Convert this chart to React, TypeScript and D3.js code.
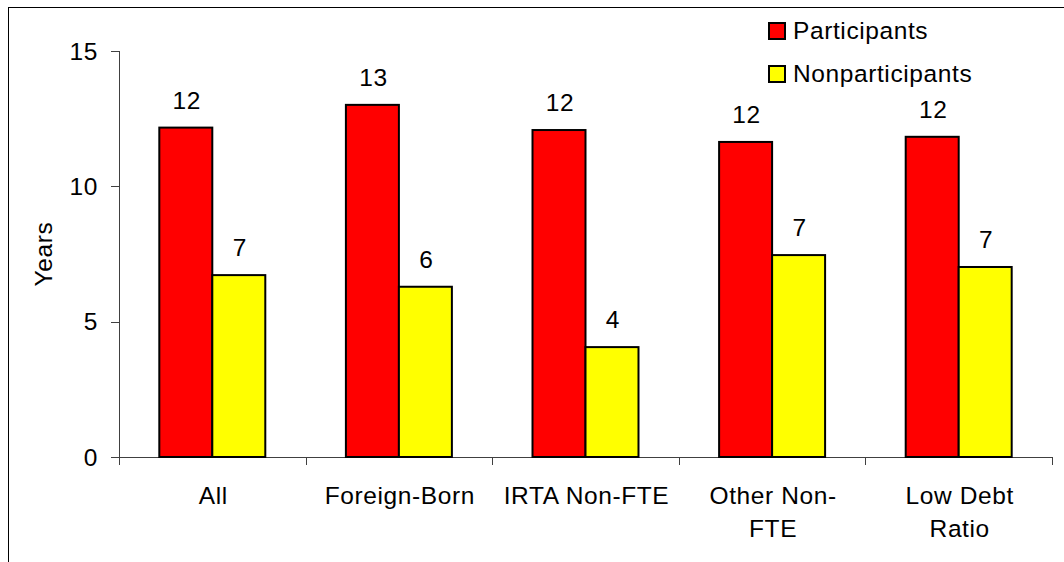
import React from "react";
import * as d3 from "d3";

const categories: string[][] = [
  ["All"],
  ["Foreign-Born"],
  ["IRTA Non-FTE"],
  ["Other Non-", "FTE"],
  ["Low Debt", "Ratio"],
];
const seriesNames = ["Participants", "Nonparticipants"];
const participants = [12.17, 13.01, 12.08, 11.64, 11.83];
const nonparticipants = [6.72, 6.29, 4.06, 7.46, 7.02];
const participantLabels = ["12", "13", "12", "12", "12"];
const nonparticipantLabels = ["7", "6", "4", "7", "7"];
const yTicks = [0, 5, 10, 15];
const colors = ["#FF0000", "#FFFF00"];

const W = 1064;
const H = 562;
const plotLeft = 119;
const plotRight = 1052;
const plotTop = 51;
const plotBottom = 457;
const FONT = "Arial, 'Liberation Sans', sans-serif";
const FS = 24.5;
const LS = 0.6;

export default function App() {
  const y = d3.scaleLinear().domain([0, 15]).range([plotBottom, plotTop]);
  const idx = categories.map((_, i) => String(i));
  const x0 = d3.scaleBand<string>().domain(idx).range([plotLeft, plotRight]).padding(0);
  const step = x0.bandwidth();
  const x1 = d3
    .scaleBand<string>()
    .domain(["0", "1"])
    .range([step * 0.216, step * 0.784])
    .padding(0);
  const series = [participants, nonparticipants];
  const labels = [participantLabels, nonparticipantLabels];

  const boundaries = idx.map((d) => x0(d)!).concat([plotRight]);

  return (
    <svg
      width={W}
      height={H}
      style={{ position: "absolute", left: 0, top: 0, background: "#fff" }}
      fontFamily={FONT}
    >
      <rect x={8.5} y={7.5} width={1200} height={700} fill="#fff" stroke="#000" strokeWidth={1} />
      {/* y axis */}
      <line x1={plotLeft + 0.5} x2={plotLeft + 0.5} y1={plotTop} y2={plotBottom + 8} stroke="#404040" strokeWidth={1} />
      {yTicks.map((t) => (
        <g key={t}>
          <line x1={plotLeft - 8} x2={plotLeft} y1={Math.round(y(t)) + 0.5} y2={Math.round(y(t)) + 0.5} stroke="#404040" />
          <text
            x={98}
            y={y(t)}
            dy="0.35em"
            textAnchor="end"
            fontSize={FS}
            letterSpacing={LS}
            fill="#000"
          >
            {t}
          </text>
        </g>
      ))}
      {/* x axis */}
      <line x1={plotLeft} x2={plotRight} y1={plotBottom + 0.5} y2={plotBottom + 0.5} stroke="#404040" />
      {boundaries.map((b, i) => (
        <line key={i} x1={Math.round(b) + 0.5} x2={Math.round(b) + 0.5} y1={plotBottom} y2={plotBottom + 8} stroke="#404040" />
      ))}
      {/* bars */}
      {idx.map((c, i) => (
        <g key={c} transform={`translate(${x0(c)},0)`}>
          {series.map((s, j) => (
            <g key={j}>
              <rect
                x={x1(String(j))!}
                y={y(s[i])}
                width={x1.bandwidth()}
                height={plotBottom - y(s[i])}
                fill={colors[j]}
                stroke="#000"
                strokeWidth={2}
              />
              <text
                x={x1(String(j))! + x1.bandwidth() / 2 + 1}
                y={y(s[i]) - 19}
                textAnchor="middle"
                fontSize={FS}
                letterSpacing={LS}
                fill="#000"
              >
                {labels[j][i]}
              </text>
            </g>
          ))}
          {categories[i].map((line, k) => (
            <text
              key={k}
              x={step / 2 + 1}
              y={504 + k * 33}
              textAnchor="middle"
              fontSize={FS}
              letterSpacing={LS}
              fill="#000"
            >
              {line}
            </text>
          ))}
        </g>
      ))}
      {/* y title */}
      <text
        transform={`translate(52,254) rotate(-90)`}
        textAnchor="middle"
        fontSize={FS}
        letterSpacing={LS}
        fill="#000"
      >
        Years
      </text>
      {/* legend */}
      {seriesNames.map((n, j) => (
        <g key={n} transform={`translate(769,${23 + j * 43})`}>
          <rect x={0} y={0} width={16} height={16} fill={colors[j]} stroke="#000" strokeWidth={2} />
          <text x={24} y={16} fontSize={FS} letterSpacing={LS} fill="#000">
            {n}
          </text>
        </g>
      ))}
    </svg>
  );
}
